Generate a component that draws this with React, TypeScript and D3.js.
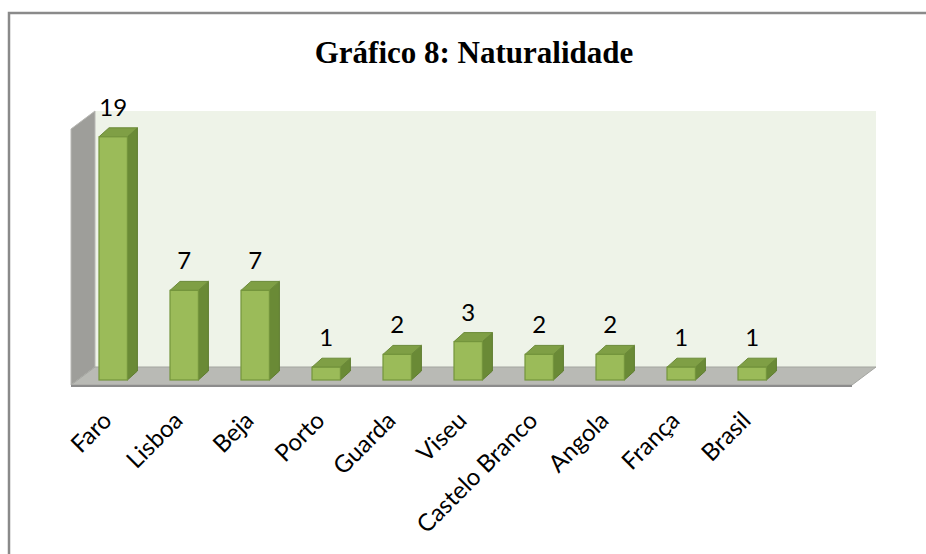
import { useEffect, useRef } from 'react';
import * as d3 from 'd3';

const title = 'Gráfico 8: Naturalidade';
const categories = ['Faro', 'Lisboa', 'Beja', 'Porto', 'Guarda', 'Viseu', 'Castelo Branco', 'Angola', 'França', 'Brasil'];
const counts = [19, 7, 7, 1, 2, 3, 2, 2, 1, 1];
// Excel left one empty slot after the last category
const slots = [...categories, ''];

const App = () => {
  const svgRef = useRef<SVGSVGElement>(null);

  useEffect(() => {
    const width = 926;
    const height = 554;

    // depth of the 3D box (back plane offset)
    const depthX = 24;
    const depthY = -18;
    // bars sit a bit behind the front edge of the floor
    const barOffX = 6.7;
    const barOffY = -5;
    const barDepthX = 10;
    const barDepthY = -9;

    const svg = d3.select(svgRef.current);
    svg.selectAll('*').remove();
    svg.attr('width', width).attr('height', height);

    // chart frame
    svg.append('rect')
      .attr('x', 9).attr('y', 13)
      .attr('width', 940).attr('height', 600)
      .attr('fill', 'white')
      .attr('stroke', '#8a8a8a')
      .attr('stroke-width', 2.5);

    svg.append('text')
      .attr('x', 474).attr('y', 63)
      .attr('text-anchor', 'middle')
      .style('font-family', '"Liberation Serif", "Times New Roman", serif')
      .style('font-weight', 'bold')
      .style('font-size', '31px')
      .text(title);

    const x = d3.scaleBand()
      .domain(slots)
      .range([71, 852])
      .paddingInner(0.6)
      .paddingOuter(0.3);

    const y = d3.scaleLinear().domain([0, 20]).range([385, 129]);

    const x0 = x.range()[0];
    const x1 = x.range()[1];
    const y0 = y(0);
    const yTop = y(20);

    const poly = (pts: [number, number][]) => 'M' + pts.map(p => p.join(',')).join('L') + 'Z';

    // back wall
    svg.append('path')
      .attr('d', poly([[x0 + depthX, yTop + depthY], [x1 + depthX, yTop + depthY], [x1 + depthX, y0 + depthY], [x0 + depthX, y0 + depthY]]))
      .attr('fill', '#eef3e8');

    // side wall
    svg.append('path')
      .attr('d', poly([[x0, yTop], [x0 + depthX, yTop + depthY], [x0 + depthX, y0 + depthY], [x0, y0]]))
      .attr('fill', '#9e9e9a')
      .attr('stroke', '#b8b8b4')
      .attr('stroke-width', 1);

    // floor
    svg.append('path')
      .attr('d', poly([[x0, y0], [x0 + depthX, y0 + depthY], [x1 + depthX, y0 + depthY], [x1, y0]]))
      .attr('fill', '#b9bab5')
      .attr('stroke', '#a4a5a0')
      .attr('stroke-width', 1);
    svg.append('line')
      .attr('x1', x0).attr('x2', x1)
      .attr('y1', y0 + 1).attr('y2', y0 + 1)
      .attr('stroke', '#8c8c8c')
      .attr('stroke-width', 2);

    const bw = x.bandwidth();
    const bars = svg.selectAll('g.bar')
      .data(categories.map((c, i) => ({ c, v: counts[i] })))
      .enter()
      .append('g')
      .attr('class', 'bar');

    const fx = (d: { c: string }) => (x(d.c) as number) + barOffX;
    const fy = (d: { v: number }) => y(d.v) + barOffY;
    const by = y0 + barOffY;

    // side face
    bars.append('path')
      .attr('d', d => poly([[fx(d) + bw, fy(d)], [fx(d) + bw + barDepthX, fy(d) + barDepthY], [fx(d) + bw + barDepthX, by + barDepthY], [fx(d) + bw, by]]))
      .attr('fill', '#6a8a36')
      .attr('stroke', '#5f7d30')
      .attr('stroke-width', 1);

    // top face
    bars.append('path')
      .attr('d', d => poly([[fx(d), fy(d)], [fx(d) + barDepthX, fy(d) + barDepthY], [fx(d) + bw + barDepthX, fy(d) + barDepthY], [fx(d) + bw, fy(d)]]))
      .attr('fill', '#7f9f45')
      .attr('stroke', '#6b8a38')
      .attr('stroke-width', 1);

    // front face
    bars.append('rect')
      .attr('x', d => fx(d))
      .attr('y', d => fy(d))
      .attr('width', bw)
      .attr('height', d => by - fy(d))
      .attr('fill', '#9bbb59')
      .attr('stroke', '#74953c')
      .attr('stroke-width', 1.2);

    // value labels
    bars.append('text')
      .attr('x', d => fx(d) + bw / 2)
      .attr('y', d => fy(d) + barDepthY - 12)
      .attr('text-anchor', 'middle')
      .style('font-family', 'Lato, "Open Sans", sans-serif')
      .style('font-size', '24px')
      .style('fill', '#000')
      .text(d => d.v);

    // category labels, rotated
    svg.selectAll('text.cat')
      .data(categories)
      .enter()
      .append('text')
      .attr('class', 'cat')
      .attr('text-anchor', 'end')
      .attr('transform', d => `translate(${(x(d) as number) + barOffX + bw / 2}, 422) rotate(-45)`)
      .style('font-family', 'Lato, "Open Sans", sans-serif')
      .style('font-size', '24px')
      .style('fill', '#000')
      .text(d => d);
  }, []);

  return (
    <svg ref={svgRef} style={{ position: 'fixed', left: 0, top: 0 }}></svg>
  );
};

export default App;
